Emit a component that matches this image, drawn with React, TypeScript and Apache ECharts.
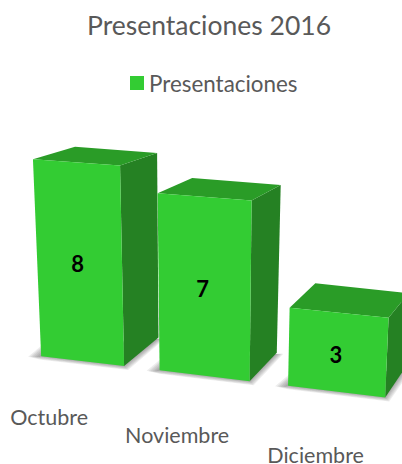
import React, { useEffect, useRef } from "react";
import * as echarts from "echarts";

const titleText = "Presentaciones 2016";
const seriesName = "Presentaciones";
const categories = ["Octubre", "Noviembre", "Diciembre"];
const values = [8, 7, 3];

const FONT = "Lato, Carlito, Calibri, sans-serif";
const FRONT = "#33CC33";
const TOP = "#2A9C27";
const SIDE = "#258123";
const TEXT = "#595959";
const SHADOW_LAYERS = [5, 4, 3, 2, 1, 0];

// Oblique camera applied to the plain cartesian coordinates given by the axes.
const GROUND_PIVOT = 204;
const warpX = (g: number) => g + 0.00031 * (g - GROUND_PIVOT) * (g - GROUND_PIVOT);
type P = [number, number];
const front = (gx: number, gy: number, h: number): P => {
  const fx = warpX(gx);
  const base = gy + h + 0.12 * (fx - GROUND_PIVOT);
  return [
    205 + (fx - 205) * (1 + 0.00025 * h),
    base - h * (0.984 + 0.000232 * (fx - 40)),
  ];
};
const back = (p: P, h: number): P => [
  p[0] + 44 - 0.058 * p[0] - 0.012 * (200 - h),
  p[1] - (28.5 - 0.04 * h - 0.0002 * h * h),
];

function renderBar(params: any, api: any) {
  const idx = api.value(0);
  const val = api.value(1);
  const [cx, topY] = api.coord([idx, val]);
  const [, baseY] = api.coord([idx, 0]);
  const half = (api.size([1, 0])[0] * 0.709) / 2;
  const h = baseY - topY;
  const l = cx - half;
  const r = cx + half;

  const bl = front(l, baseY, 0);
  const br = front(r, baseY, 0);
  const tl = front(l, topY, h);
  const tr = front(r, topY, h);
  const btl = back(tl, h);
  const btr = back(tr, h);
  const bbr = back(br, 0);

  const poly = (points: P[], fill: string) => ({
    type: "polygon",
    shape: { points },
    style: { fill },
  });

  const midX = (tl[0] + tr[0] + bl[0] + br[0]) / 4;
  const midY = (tl[1] + tr[1] + bl[1] + br[1]) / 4;
  const baseMidX = (bl[0] + br[0]) / 2;
  const baseMidY = (bl[1] + br[1]) / 2;

  const shadows = SHADOW_LAYERS.map((e) =>
    poly(
      [
        [bl[0] - 3 - e * 2, bl[1] + 1 - e * 0.1],
        [bl[0] + 2, bl[1] - 4 - e * 1.6],
        [bbr[0] + e * 1.3, bbr[1] + 1],
        [br[0] + e * 0.8, br[1] + e * 0.8],
        [bl[0], bl[1] + e * 0.7],
      ],
      "rgba(50,50,50,0.085)"
    )
  );

  return {
    type: "group",
    children: [
      ...shadows,
      poly([tr, btr, bbr, br], SIDE),
      poly([tl, btl, btr, tr], TOP),
      poly([tl, tr, br, bl], FRONT),
      {
        type: "text",
        style: {
          text: String(val),
          x: midX - 2,
          y: midY + 2,
          align: "center",
          verticalAlign: "middle",
          fill: "#000000",
          font: `bold 22px ${FONT}`,
        },
      },
      {
        type: "text",
        style: {
          text: categories[idx],
          x: baseMidX - 33.5 + 0.049 * (baseMidX - 82),
          y: baseMidY + 56 + 0.03 * (baseMidX - 82),
          align: "center",
          verticalAlign: "middle",
          lineHeight: 16,
          fill: TEXT,
          font: `21.5px ${FONT}`,
        },
      },
    ],
  };
}

export default function App() {
  const ref = useRef<HTMLDivElement>(null);
  useEffect(() => {
    const chart = echarts.init(ref.current!, undefined, { renderer: "svg" });
    chart.setOption({
      animation: false,
      backgroundColor: "#ffffff",
      title: {
        text: titleText,
        left: 204,
        top: 6,
        textAlign: "center",
        textStyle: { color: TEXT, fontFamily: FONT, fontSize: 26.5, fontWeight: "normal" },
      },
      legend: {
        data: [seriesName],
        left: 125,
        top: 67,
        icon: "rect",
        itemWidth: 14,
        itemHeight: 14,
        itemGap: 0,
        selectedMode: false,
        textStyle: { color: TEXT, fontFamily: FONT, fontSize: 22.4 },
      },
      grid: { left: 13.5, width: 381, top: 175.7, height: 200 },
      xAxis: { type: "category", data: categories, show: false },
      yAxis: { type: "value", min: 0, max: 8, show: false },
      series: [
        {
          type: "custom",
          name: seriesName,
          coordinateSystem: "cartesian2d",
          itemStyle: { color: FRONT },
          clip: false,
          renderItem: renderBar,
          encode: { x: 0, y: 1 },
          data: values.map((v, i) => [i, v]),
        },
      ],
    });
    return () => chart.dispose();
  }, []);
  return (
    <div
      ref={ref}
      style={{ position: "absolute", left: 0, top: 0, width: 402, height: 464, overflow: "hidden" }}
    />
  );
}
